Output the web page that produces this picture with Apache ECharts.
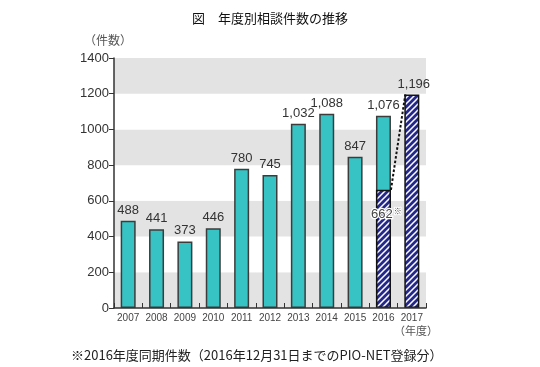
<!DOCTYPE html>
<html>
<head>
<meta charset="utf-8">
<script src="https://cdn.jsdelivr.net/npm/echarts@6/dist/echarts.min.js"></script>
<style>
html,body{margin:0;padding:0;background:#fff;}
#c{width:540px;height:367px;}
</style>
</head>
<body>
<div id="c"></div>
<script>
// ---- data ----
const years = ['2007','2008','2009','2010','2011','2012','2013','2014','2015','2016','2017'];
const totalCounts = [488, 441, 373, 446, 780, 745, 1032, 1088, 847, 1076, null];
const samePeriodCounts = [null, null, null, null, null, null, null, null, null, 662, 1196];
const yTicks = [0, 200, 400, 600, 800, 1000, 1200, 1400];
const titleText = '図　年度別相談件数の推移';
const yUnit = '（件数）';
const xUnit = '（年度）';
const noteText = '※2016年度同期件数（2016年12月31日までのPIO-NET登録分）';

const CJK = '"Noto Sans CJK JP", "Noto Sans", sans-serif';
const NUM = '"Liberation Sans", "DejaVu Sans", sans-serif';
const fmt = v => Number(v).toLocaleString('en-US');

// hatch pattern
const pc = document.createElement('canvas');
pc.width = 6; pc.height = 6;
const ctx = pc.getContext('2d');
ctx.fillStyle = '#24278c';
ctx.fillRect(0,0,6,6);
ctx.strokeStyle = '#ffffff';
ctx.lineWidth = 1.5;
ctx.beginPath();
ctx.moveTo(-1,7); ctx.lineTo(7,-1);
ctx.moveTo(-4,4); ctx.lineTo(4,-4);
ctx.moveTo(2,10); ctx.lineTo(10,2);
ctx.stroke();
const hatch = {image: pc, repeat: 'repeat'};

const barW = 15;
const lastIdx = years.length - 1;
const dashData = [[lastIdx - 1, samePeriodCounts[lastIdx - 1], lastIdx, samePeriodCounts[lastIdx]]];

const chart = echarts.init(document.getElementById('c'), null, {renderer: 'canvas'});
chart.setOption({
  animation: false,
  backgroundColor: '#ffffff',
  grid: {left: 114, right: 114, top: 58, bottom: 59, containLabel: false},
  title: [
    {text: titleText, left: 'center', top: 7, textStyle: {fontFamily: CJK, fontSize: 13, fontWeight: 'normal', color: '#111'}},
    {text: noteText, left: 66, top: 344, textStyle: {fontFamily: CJK, fontSize: 13, fontWeight: 'normal', color: '#222'}}
  ],
  graphic: [
    {type: 'text', left: 84, top: 34, style: {text: yUnit, font: '12px ' + CJK, fill: '#555'}},
    {type: 'text', left: 394, top: 325, style: {text: xUnit, font: '11px ' + CJK, fill: '#555'}}
  ],
  xAxis: {
    type: 'category',
    data: years,
    axisLine: {lineStyle: {color: '#333', width: 1.5}},
    axisTick: {show: true, inside: true, length: 5, interval: 0, lineStyle: {color: '#333', width: 1}},
    axisLabel: {color: '#444', fontSize: 10, fontFamily: NUM, margin: 5, interval: 0},
    z: 5
  },
  yAxis: {
    type: 'value',
    min: yTicks[0],
    max: yTicks[yTicks.length - 1],
    interval: yTicks[1] - yTicks[0],
    axisLine: {show: true, lineStyle: {color: '#333', width: 1.5}},
    axisTick: {show: true, length: 5, lineStyle: {color: '#333', width: 1}},
    axisLabel: {color: '#333', fontSize: 13, fontFamily: NUM, margin: 5, formatter: v => String(v)},
    splitLine: {show: false},
    splitArea: {show: true, areaStyle: {color: ['#e3e3e3', '#ffffff']}}
  },
  series: [
    {
      type: 'bar',
      data: totalCounts.map(v => v == null ? '-' : v),
      barWidth: barW,
      itemStyle: {color: '#37c3c4', borderColor: '#3c3c3c', borderWidth: 1.5},
      label: {show: true, position: 'top', distance: 4, fontFamily: NUM, fontSize: 13, color: '#333', formatter: p => fmt(p.value)},
      z: 2
    },
    {
      type: 'bar',
      barGap: '-100%',
      barWidth: barW,
      data: samePeriodCounts.map((v, i) => {
        if (v == null) return '-';
        if (i === lastIdx) {
          return {value: v, label: {show: true, position: 'top', distance: 4, offset: [2, 0]}};
        }
        return {value: v, label: {show: true, position: 'insideTop', distance: 17, offset: [3, 0],
          formatter: p => '{a|' + fmt(p.value) + '}{b|※}'}};
      }),
      itemStyle: {color: hatch, borderColor: '#111', borderWidth: 1.5},
      label: {show: true, fontFamily: NUM, fontSize: 13, color: '#333', formatter: p => fmt(p.value),
        rich: {
          a: {fontFamily: NUM, fontSize: 13, color: '#444', textBorderColor: '#fff', textBorderWidth: 2.5},
          b: {fontFamily: CJK, fontSize: 8, color: '#444', verticalAlign: 'top', padding: [0,0,8,1], textBorderColor: '#fff', textBorderWidth: 2}
        }},
      z: 3
    },
    {
      type: 'custom',
      data: dashData,
      encode: {x: [0, 2], y: [1, 3]},
      z: 10,
      renderItem: function (params, api) {
        const p1 = api.coord([api.value(0), api.value(1)]);
        const p2 = api.coord([api.value(2), api.value(3)]);
        const h = barW / 2;
        return {
          type: 'line',
          shape: {x1: p1[0] + h, y1: p1[1], x2: p2[0] - h + 1, y2: p2[1]},
          style: {stroke: '#111', lineWidth: 2, lineDash: [2.5, 2]}
        };
      }
    }
  ]
});
</script>
</body>
</html>
